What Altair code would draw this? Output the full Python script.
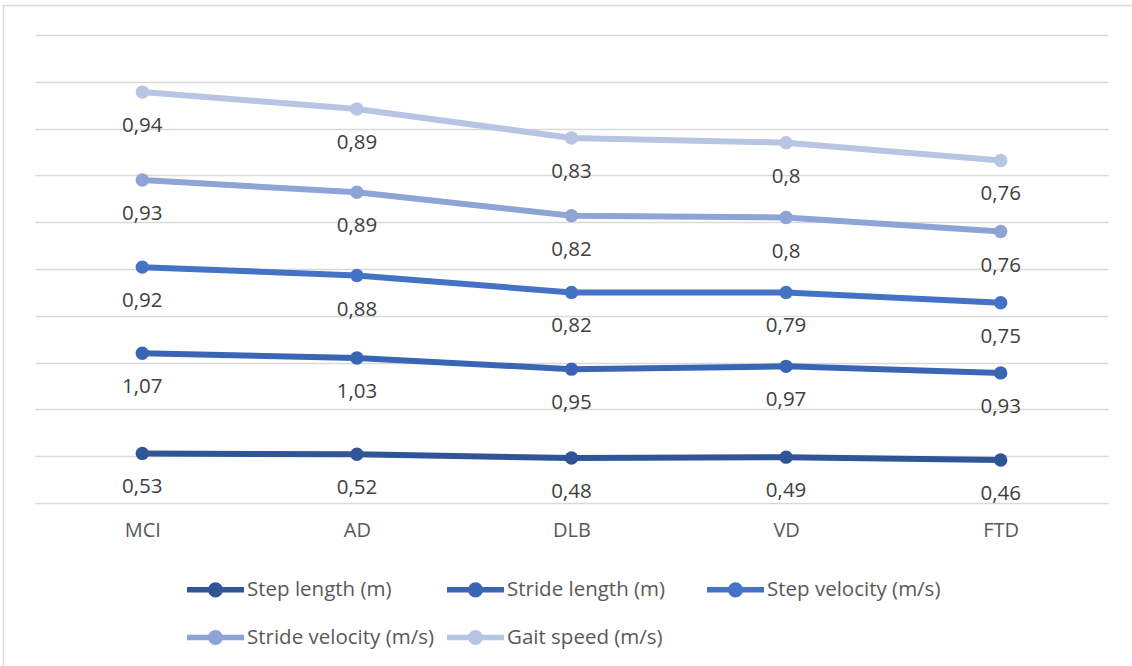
import altair as alt
import pandas as pd

categories = ["MCI", "AD", "DLB", "VD", "FTD"]
series = [
    "Step length (m)",
    "Stride length (m)",
    "Step velocity (m/s)",
    "Stride velocity (m/s)",
    "Gait speed (m/s)",
]
step_length = [0.53, 0.52, 0.48, 0.49, 0.46]
stride_length = [1.07, 1.03, 0.95, 0.97, 0.93]
step_velocity = [0.92, 0.88, 0.82, 0.79, 0.75]
stride_velocity = [0.93, 0.89, 0.82, 0.80, 0.76]
gait_speed = [0.94, 0.89, 0.83, 0.80, 0.76]
colors = ["#2F5597", "#3A65B5", "#4472C4", "#8EA4D6", "#B8C4E4"]
grid_values = [0, 0.5, 1, 1.5, 2, 2.5, 3, 3.5, 4, 4.5, 5]

all_values = [step_length, stride_length, step_velocity, stride_velocity, gait_speed]
rows = []
for i, (s, vals) in enumerate(zip(series, all_values)):
    for c, v in zip(categories, vals):
        rows.append({"cat": c, "series": s, "order": i, "value": v})
df = pd.DataFrame(rows)

FONT = "Open Sans"
r = 0.167
sym_path = (f"M-1,0L1,0M{r},0A{r},{r},0,1,1,-{r},0A{r},{r},0,1,1,{r},0Z")

leg = alt.Legend(
    title=None, orient="none", legendX=149, legendY=523, direction="horizontal",
    columns=3, gridAlign="all", columnPadding=2, rowPadding=-18,
    symbolType=sym_path, symbolSize=3249, symbolStrokeWidth=5.5,
    labelFontSize=20.5, labelFont=FONT, labelColor="#595959", labelOffset=0,
    labelLimit=400, padding=0,
)
color_scale = alt.Scale(domain=series, range=colors)

base = alt.Chart(df).transform_stack(
    stack="value", groupby=["cat"], as_=["y0", "y1"], sort=[alt.SortField("order")]
)
x = alt.X(
    "cat:N", sort=categories,
    scale=alt.Scale(type="point", padding=0.5),
    axis=alt.Axis(title=None, labelAngle=0, ticks=False, domain=False, grid=False,
                  labelFontSize=20, labelFont=FONT, labelColor="#595959", labelPadding=17),
)
y = alt.Y(
    "y1:Q",
    scale=alt.Scale(domain=[0, 5], nice=False, zero=True),
    axis=alt.Axis(title=None, labels=False, ticks=False, domain=False, values=grid_values,
                  gridColor="#D9D9D9", gridWidth=1.3),
)

lines = base.mark_line(strokeWidth=6).encode(
    x=x, y=y, stroke=alt.Stroke("series:N", scale=color_scale, legend=leg)
)
points = base.mark_circle(size=180, opacity=1).encode(
    x=x, y=y, fill=alt.Fill("series:N", scale=color_scale, legend=leg)
)
labels = base.transform_calculate(
    label="replace(toString(datum.value), '.', ',')"
).mark_text(dy=34, fontSize=20.5, font=FONT, color="#404040").encode(
    x=x, y=y, text="label:N"
)
border = alt.Chart(pd.DataFrame({"a": [0]})).mark_rect(
    fill=None, stroke="#D9D9D9", strokeWidth=1.5
).encode(
    x=alt.value(-31.5), y=alt.value(-29.5), x2=alt.value(1200), y2=alt.value(700)
)

chart = alt.layer(border, lines, points, labels).properties(
    width=1073, height=468,
    autosize=alt.AutoSizeParams(type="none"),
    padding={"left": 35, "top": 35, "right": 24, "bottom": 163},
    background="white",
).configure_view(stroke=None)

chart.save("out.html", embed_options={"renderer": "svg", "actions": False})
